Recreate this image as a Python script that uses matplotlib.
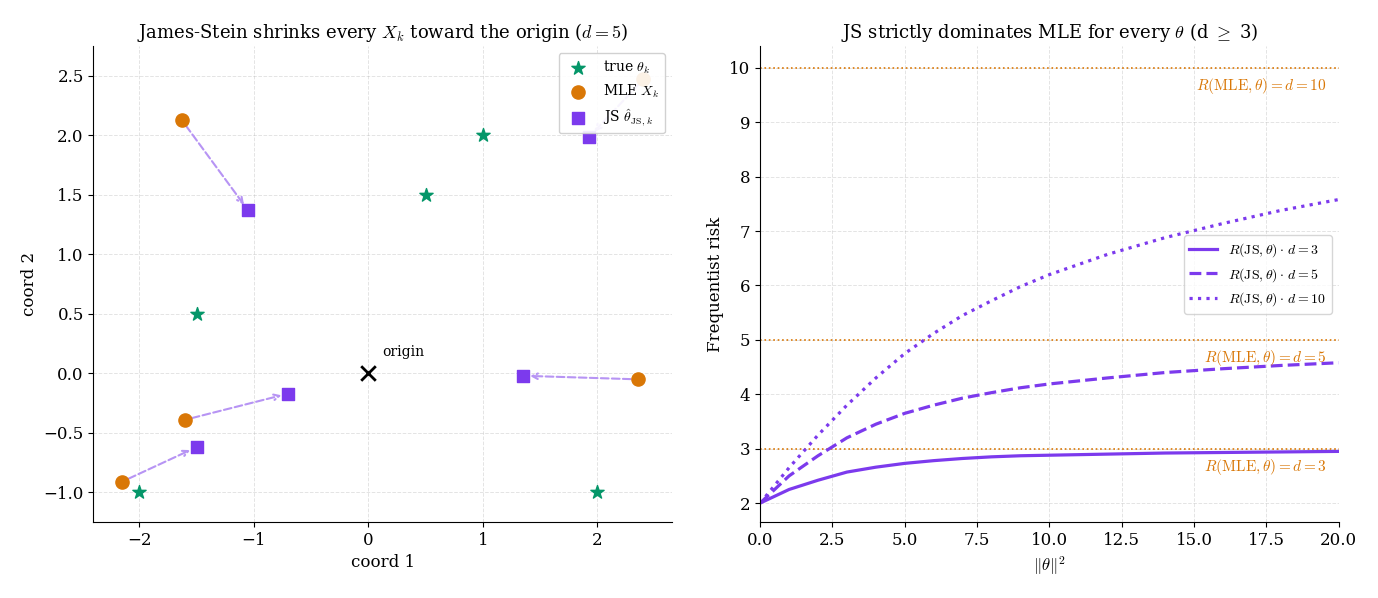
import numpy as np
import matplotlib.pyplot as plt

plt.rcParams['font.family'] = 'DejaVu Serif'
plt.rcParams['mathtext.fontset'] = 'cm'

# -------------------------------------------------
# Data
# -------------------------------------------------
theta_x = [-2.0, -1.5, 0.5, 1.0, 2.0]
theta_y = [-1.0, 0.5, 1.5, 2.0, -1.0]
mle_x = [-2.15, -1.60, -1.63, 2.35, 2.40]
mle_y = [-0.91, -0.39, 2.13, -0.05, 2.47]
js_x = [-1.50, -0.70, -1.05, 1.35, 1.93]
js_y = [-0.62, -0.17, 1.37, -0.02, 1.99]

norm2 = [0, 1, 2, 3, 4, 5, 6, 7, 8, 9, 10, 12, 14, 16, 18, 20]
risk_d3 = [2.0, 2.25, 2.42, 2.57, 2.66, 2.73, 2.78, 2.82, 2.85, 2.87, 2.88,
           2.90, 2.92, 2.93, 2.94, 2.95]
risk_d5 = [2.0, 2.5, 2.87, 3.2, 3.45, 3.65, 3.8, 3.93, 4.03, 4.12, 4.19,
           4.30, 4.40, 4.47, 4.53, 4.58]
risk_d10 = [2.0, 2.65, 3.25, 3.8, 4.3, 4.75, 5.12, 5.45, 5.72, 5.98, 6.2,
            6.57, 6.88, 7.14, 7.38, 7.58]
dims = [3, 5, 10]

green = '#059669'
orange = '#d97706'
purple = '#7c3aed'
light_purple = '#b794f4'

fig, ax = plt.subplots(1, 2, figsize=(13.78, 5.98), dpi=100)

# ---- left panel ----
a = ax[0]
for mx, my, jx, jy in zip(mle_x, mle_y, js_x, js_y):
    a.annotate('', xy=(jx, jy), xytext=(mx, my),
               arrowprops=dict(arrowstyle='->', color=light_purple, lw=1.5,
                               ls='--', shrinkA=5, shrinkB=5), zorder=2)
a.scatter(theta_x, theta_y, marker='*', s=100, color=green, label=r'true $\theta_k$', zorder=3)
a.scatter(mle_x, mle_y, marker='o', s=90, color=orange, label=r'MLE $X_k$', zorder=3)
a.scatter(js_x, js_y, marker='s', s=80, color=purple, label=r'JS $\hat{\theta}_{\mathrm{JS},\,k}$', zorder=3)
a.scatter([0], [0], marker='x', s=110, color='black', linewidths=2, zorder=4)
a.text(0.12, 0.15, 'origin', fontsize=10)
a.set_xlim(-2.4, 2.65)
a.set_ylim(-1.25, 2.75)
a.set_xlabel('coord 1', fontsize=12)
a.set_ylabel('coord 2', fontsize=12)
a.set_title(r'James-Stein shrinks every $X_k$ toward the origin ($d=5$)', fontsize=13)
a.legend(loc='upper right', fontsize=10, framealpha=0.9)

# ---- right panel ----
b = ax[1]
styles = ['-', '--', ':']
for d, r, ls in zip(dims, [risk_d3, risk_d5, risk_d10], styles):
    b.plot(norm2, r, ls=ls, color=purple, lw=2.3,
           label=r'$R(\mathrm{JS},\theta)\cdot\,d=%d$' % d)
    b.axhline(d, color=orange, ls=':', lw=1.2)
    b.text(19.6, d - 0.15, r'$R(\mathrm{MLE},\theta)=d=%d$' % d, color=orange,
           ha='right', va='top', fontsize=11)
b.set_xlim(0, 20)
b.set_ylim(1.65, 10.4)
b.set_xlabel(r'$\|\theta\|^2$', fontsize=12)
b.set_ylabel('Frequentist risk', fontsize=12)
b.set_title(r'JS strictly dominates MLE for every $\theta$ (d $\geq$ 3)', fontsize=13)
b.legend(loc='center right', bbox_to_anchor=(1.0, 0.52), fontsize=10)

for x in ax:
    x.grid(True, ls='--', alpha=0.35, lw=0.7)
    x.spines['top'].set_visible(False)
    x.spines['right'].set_visible(False)
    x.tick_params(labelsize=12)

plt.tight_layout(pad=1.5, w_pad=2.5)
plt.savefig('out.png')
